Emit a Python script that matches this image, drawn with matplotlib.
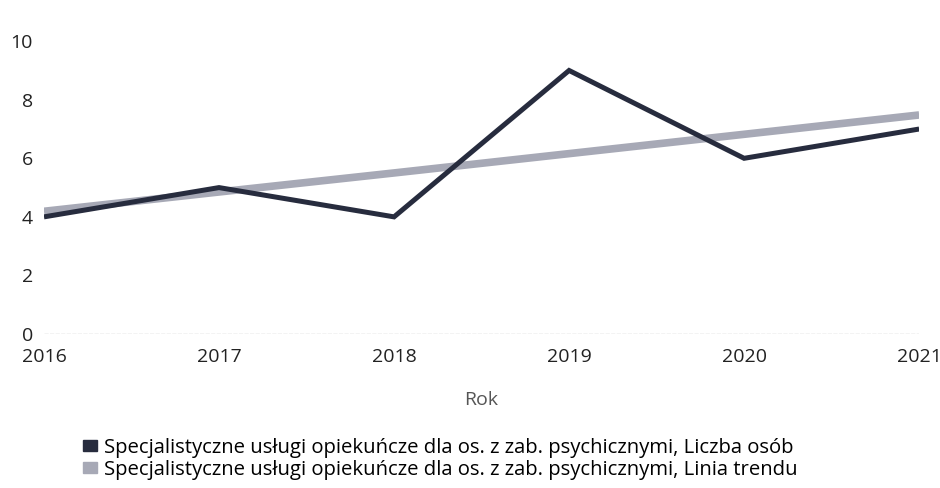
import matplotlib
matplotlib.use("Agg")
import matplotlib.pyplot as plt
from matplotlib.patches import Patch

plt.rcParams['font.family'] = ['Open Sans', 'DejaVu Sans']

years = [2016, 2017, 2018, 2019, 2020, 2021]
liczba_osob = [4, 5, 4, 9, 6, 7]
linia_trendu = [4.19, 4.85, 5.50, 6.16, 6.82, 7.48]
labels = [
    "Specjalistyczne usługi opiekuńcze dla os. z zab. psychicznymi, Liczba osób",
    "Specjalistyczne usługi opiekuńcze dla os. z zab. psychicznymi, Linia trendu",
]
dark = "#272c3e"
light = "#a7a9b6"

fig = plt.figure(figsize=(9.4, 4.88), dpi=100)
ax = fig.add_axes([0.0468, 0.3156, 0.931, 0.600])

ax.plot(years, linia_trendu, color=light, lw=5.5, solid_capstyle='butt', zorder=2)
ax.plot(years, liczba_osob, color=dark, lw=3.6, solid_joinstyle='miter',
        solid_capstyle='butt', zorder=3)

ax.set_xlim(2016, 2021)
ax.set_ylim(0, 10)
ax.set_yticks([0, 2, 4, 6, 8, 10])
ax.set_xticks(years)
ax.axhline(0, color="#c4c4c4", lw=1, ls=(0, (3, 1)), zorder=1)
for s in ax.spines.values():
    s.set_visible(False)
ax.tick_params(length=0, labelsize=14, colors="#222222")
ax.tick_params(axis='y', pad=8)
ax.tick_params(axis='x', pad=10)
ax.set_xlabel("Rok", fontsize=14, color="#555555", labelpad=18)

handles = [Patch(color=dark), Patch(color=light)]
fig.legend(handles, labels, loc='upper left', bbox_to_anchor=(0.088, 0.103),
           frameon=False, fontsize=14.6, handlelength=0.72, handleheight=0.5,
           handletextpad=0.35, labelspacing=0.1, borderaxespad=0, borderpad=0)

fig.savefig("out.png", dpi=100)
